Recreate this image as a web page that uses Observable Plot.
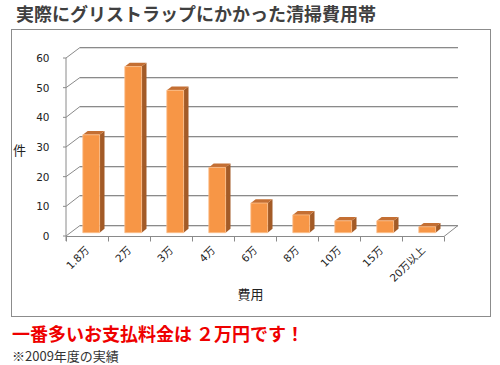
<!DOCTYPE html>
<html>
<head>
<meta charset="utf-8">
<script src="https://cdn.jsdelivr.net/npm/d3@7"></script>
<script src="https://cdn.jsdelivr.net/npm/@observablehq/plot@0.6"></script>
<style>
  body { margin: 0; background: #fff; width: 500px; height: 365px; position: relative; overflow: hidden; }
  .t { position: absolute; white-space: nowrap; font-family: "Noto Sans CJK JP", sans-serif; line-height: 1; }
  #title { left: 16px; top: 4px; font-size: 18px; font-weight: bold; color: #404040; }
  #box { position: absolute; left: 11px; top: 29px; width: 478px; height: 286px; border: 1px solid #8c8c8c; }
  #box svg { display: block; }
  #note { left: 12px; top: 324px; font-size: 18px; font-weight: bold; color: #ee0000; }
  #cap { left: 12px; top: 349px; font-size: 13px; color: #333; }
</style>
</head>
<body>
<div class="t" id="title">実際にグリストラップにかかった清掃費用帯</div>
<div id="box"></div>
<div class="t" id="note">一番多いお支払料金は ２万円です！</div>
<div class="t" id="cap">※2009年度の実績</div>
<script>
const categories = ["1.8万", "2万", "3万", "4万", "6万", "8万", "10万", "15万", "20万以上"];
const counts = [33, 56, 48, 22, 10, 6, 4, 4, 2];
const yTicks = [0, 10, 20, 30, 40, 50, 60];
const xTitle = "費用";
const yTitle = "件";

const data = categories.map((c, i) => ({cat: c, count: counts[i]}));

// depth of the 3D wall (px) and bar depth fractions
const DX = 14, DY = -11;
const F0 = 0.3, F1 = 0.65;

function band(scales) {
  const x = scales.x;
  const start = x(categories[0]);
  const bw = x(categories[1]) - x(categories[0]);
  return {x, start, bw, end: x(categories[categories.length - 1]) + bw};
}

function wallRender(index, scales, values, dims) {
  const {x, start, bw, end} = band(scales);
  const y = scales.y;
  const g = d3.create("svg:g");
  const y0 = y(0);
  for (const t of yTicks) {
    const yy = Math.round(y(t) + DY) + 0.5;
    g.append("line").attr("x1", start + DX).attr("x2", end + DX)
      .attr("y1", yy + 1).attr("y2", yy + 1).attr("stroke", "#dcdcdc");
    g.append("line").attr("x1", start + DX).attr("x2", end + DX)
      .attr("y1", yy).attr("y2", yy).attr("stroke", "#8a8a8a");
    g.append("line").attr("x1", start).attr("y1", y(t))
      .attr("x2", start + DX).attr("y2", yy).attr("stroke", "#8a8a8a");
    g.append("line").attr("x1", start - 3).attr("x2", start)
      .attr("y1", y(t)).attr("y2", y(t)).attr("stroke", "#8a8a8a");
  }
  g.append("line").attr("x1", start).attr("x2", start)
    .attr("y1", y(yTicks[yTicks.length - 1])).attr("y2", y0 + 5).attr("stroke", "#8a8a8a");
  const fy = Math.round(y0) + 0.5;
  g.append("line").attr("x1", start).attr("x2", end).attr("y1", fy).attr("y2", fy).attr("stroke", "#8a8a8a");
  g.append("line").attr("x1", end).attr("y1", fy).attr("x2", end + DX).attr("y2", Math.round(y0 + DY) + 0.5).attr("stroke", "#8a8a8a");
  for (let i = 0; i <= categories.length; i++) {
    const xx = Math.round(start + i * bw) + 0.5;
    g.append("line").attr("x1", xx).attr("x2", xx).attr("y1", fy).attr("y2", fy + 5).attr("stroke", "#8a8a8a");
  }
  return g.node();
}

function barsRender(index, scales, values, dims) {
  const {x, bw} = band(scales);
  const y = scales.y;
  const g = d3.create("svg:g");
  const ddx = (F1 - F0) * DX, ddy = (F1 - F0) * DY;
  for (const i of index) {
    const d = data[i];
    const xl = x(d.cat) + bw * 0.3 + F0 * DX;
    const xr = xl + bw * 0.4;
    const yb = y(0) + F0 * DY;
    const yt = y(d.count) + F0 * DY;
    const P = (pts) => "M" + pts.map(p => p.join(",")).join("L") + "Z";
    g.append("path").attr("d", P([[xr, yt], [xr + ddx, yt + ddy], [xr + ddx, yb + ddy], [xr, yb]]))
      .attr("fill", "#a35b27");
    g.append("path").attr("d", P([[xl, yt], [xl + ddx, yt + ddy], [xr + ddx, yt + ddy], [xr, yt]]))
      .attr("fill", "#c46f33");
    g.append("path").attr("d", P([[xl, yt], [xr, yt], [xr, yb], [xl, yb]]))
      .attr("fill", "#f79646").attr("stroke", "#fbbf8c").attr("stroke-width", 0.8);
  }
  return g.node();
}

const chart = Plot.plot({
  width: 478,
  height: 286,
  marginLeft: 50,
  marginRight: 42,
  marginTop: 28,
  marginBottom: 80,
  style: {fontFamily: "'DejaVu Sans', 'Noto Sans CJK JP', sans-serif", fontSize: "10.5px", color: "#222", background: "transparent"},
  x: {domain: categories, padding: 0, tickSize: 0, tickRotate: -45, tickPadding: 12, label: null},
  y: {domain: [0, 60], ticks: yTicks, tickSize: 0, tickPadding: 13, label: null},
  marks: [
    Plot.ruleY(yTicks, {y: d => d, render: wallRender}),
    Plot.barY(data, {x: "cat", y: "count", render: barsRender}),
    Plot.text([yTitle], {frameAnchor: "left", textAnchor: "middle", text: d => d, dx: -43, dy: 3, fontSize: 13, fontFamily: "'Noto Sans CJK JP'"}),
    Plot.text([xTitle], {frameAnchor: "bottom", textAnchor: "middle", lineAnchor: "middle", text: d => d, dx: -5, dy: 58, fontSize: 13, fontFamily: "'Noto Sans CJK JP'"})
  ]
});
document.getElementById("box").appendChild(chart);
</script>
</body>
</html>
